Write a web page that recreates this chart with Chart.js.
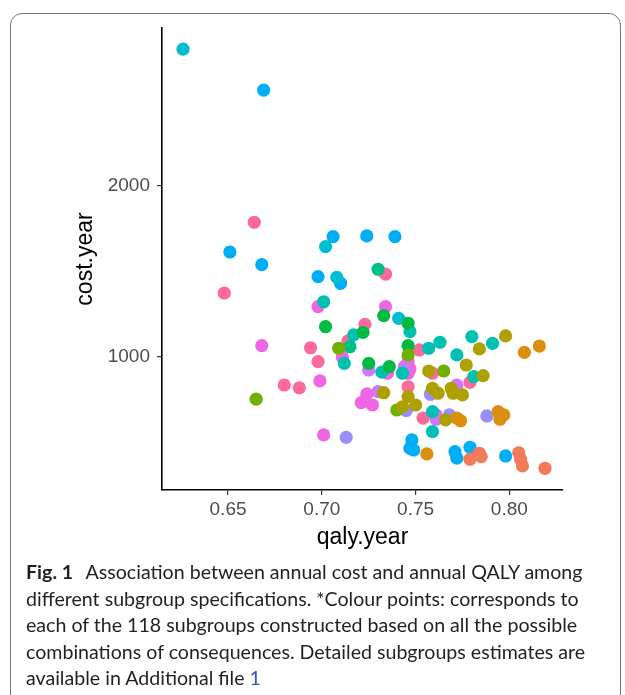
<!DOCTYPE html>
<html>
<head>
<meta charset="utf-8">
<script src="https://cdn.jsdelivr.net/npm/chart.js@4/dist/chart.umd.min.js"></script>
<style>
  html, body { margin: 0; padding: 0; background: #fff; overflow: hidden; }
  body { width: 625px; height: 695px; position: relative; }
  #frame {
    position: absolute; left: 10px; top: 13px; width: 611px; height: 720px;
    border: 1px solid #777; border-radius: 12px; box-sizing: border-box;
  }
  #plot { position: absolute; left: 0; top: 0; width: 625px; height: 560px; }
  #caption {
    position: absolute; left: 26px; top: 559px; width: 595px;
    font-family: Lato, "Open Sans", sans-serif; font-size: 19.6px; line-height: 26.5px;
    color: #231f20; white-space: nowrap;
  }
  #caption b { font-weight: 700; margin-right: 8px; }
  #caption .ref { color: #3b50d6; }
</style>
</head>
<body>
<div id="frame"></div>
<div id="plot"><canvas id="chart" width="625" height="560"></canvas></div>
<div id="caption">
<b>Fig. 1</b> Association between annual cost and annual QALY among<br>
different subgroup specifications. *Colour points: corresponds to<br>
each of the 118 subgroups constructed based on all the possible<br>
combinations of consequences. Detailed subgroups estimates are<br>
available in Additional file <span class="ref">1</span>
</div>
<script>
// axis ticks
const xTicks = [0.65, 0.70, 0.75, 0.80];
const xTickLabels = ["0.65", "0.70", "0.75", "0.80"];
const yTicks = [1000, 2000];

// subgroup estimates, grouped by point colour
const groupNames = ["salmon", "orange", "olive", "yellowgreen", "green", "greenteal", "teal", "cyan", "blue", "violet", "purple", "magenta", "pink"];

const salmonQaly = [0.779, 0.784, 0.785, 0.805, 0.806, 0.807, 0.819];
const salmonCost = [402, 437, 417, 440, 402, 363, 349];

const orangeQaly = [0.816, 0.808, 0.794, 0.797, 0.795, 0.772, 0.774, 0.756];
const orangeCost = [1064, 1027, 680, 661, 636, 642, 627, 433];

const oliveQaly = [0.798, 0.784, 0.777, 0.786, 0.757, 0.759, 0.762, 0.769, 0.770, 0.775, 0.733, 0.746, 0.743, 0.750, 0.766];
const oliveCost = [1123, 1047, 953, 891, 918, 817, 788, 817, 788, 778, 791, 768, 709, 719, 632];

const yellowgreenQaly = [0.740, 0.765, 0.746, 0.665, 0.709];
const yellowgreenCost = [690, 918, 1012, 753, 1051];

const greenQaly = [0.733, 0.746, 0.702, 0.722, 0.746, 0.725, 0.736];
const greenCost = [1242, 1197, 1177, 1144, 1066, 963, 943];

const greentealQaly = [0.730, 0.715];
const greentealCost = [1513, 1060];

const tealQaly = [0.701, 0.747, 0.717, 0.712, 0.732, 0.743, 0.757, 0.763, 0.780, 0.791, 0.772, 0.781, 0.759, 0.759];
const tealCost = [1323, 1148, 1129, 963, 911, 905, 1051, 1086, 1119, 1080, 1012, 885, 680, 563];

const cyanQaly = [0.626, 0.702, 0.708, 0.741];
const cyanCost = [2800, 1645, 1466, 1226];

const blueQaly = [0.669, 0.651, 0.668, 0.706, 0.724, 0.739, 0.698, 0.710, 0.748, 0.747, 0.749, 0.771, 0.772, 0.779, 0.798];
const blueCost = [2561, 1614, 1540, 1704, 1708, 1704, 1470, 1431, 515, 466, 456, 446, 408, 472, 421];

const violetQaly = [0.745, 0.713, 0.768, 0.788, 0.758];
const violetCost = [686, 530, 661, 655, 784];

const purpleQaly = [0.725, 0.730, 0.772, 0.761, 0.761, 0.744];
const purpleCost = [924, 797, 836, 661, 636, 943];

const magentaQaly = [0.698, 0.734, 0.668, 0.711, 0.699, 0.701, 0.735, 0.746, 0.747, 0.746, 0.724, 0.721, 0.727, 0.758];
const magentaCost = [1294, 1294, 1066, 998, 860, 544, 905, 973, 930, 905, 784, 733, 719, 782];

const pinkQaly = [0.664, 0.648, 0.734, 0.723, 0.714, 0.694, 0.698, 0.680, 0.688, 0.752, 0.759, 0.779, 0.746, 0.754];
const pinkCost = [1788, 1373, 1485, 1191, 1094, 1054, 973, 836, 820, 1041, 905, 852, 826, 642];

const seriesQaly = [salmonQaly, orangeQaly, oliveQaly, yellowgreenQaly, greenQaly, greentealQaly, tealQaly, cyanQaly, blueQaly, violetQaly, purpleQaly, magentaQaly, pinkQaly];
const seriesCost = [salmonCost, orangeCost, oliveCost, yellowgreenCost, greenCost, greentealCost, tealCost, cyanCost, blueCost, violetCost, purpleCost, magentaCost, pinkCost];
const colours = ["#F27A5A", "#DC8E0E", "#ADA100", "#6FB000", "#00BA42", "#00C08A", "#00C0B2", "#00BDD2", "#00AEF5", "#9A8EFB", "#D277F9", "#EE66E4", "#FB6A98"];

const datasets = groupNames.map((name, i) => ({
  label: name,
  data: seriesQaly[i].map((q, j) => ({ x: q, y: seriesCost[i][j] })),
  backgroundColor: colours[i],
  pointRadius: 6.6,
  pointBorderWidth: 0,
  pointHoverRadius: 6.6
}));

const tickFont = { family: "'Liberation Sans', Arial, sans-serif", size: 19 };
const titleFont = { family: "'Liberation Sans', Arial, sans-serif", size: 23 };

new Chart(document.getElementById("chart").getContext("2d"), {
  type: "scatter",
  data: { datasets: datasets },
  options: {
    responsive: false,
    animation: false,
    events: [],
    layout: { padding: { top: 28, right: 62, left: 0, bottom: 0 } },
    plugins: { legend: { display: false }, tooltip: { enabled: false } },
    scales: {
      x: {
        type: "linear",
        min: 0.6148,
        max: 0.8286,
        afterBuildTicks: axis => { axis.ticks = xTicks.map(v => ({ value: v })); },
        afterFit: axis => { axis.height = 70; },
        ticks: {
          color: "#4d4d4d", font: tickFont, padding: 3, maxRotation: 0,
          callback: (v, i) => xTickLabels[i]
        },
        grid: { drawOnChartArea: false, drawTicks: true, tickLength: 5, color: "#333", lineWidth: 1.2 },
        border: { color: "#000", width: 1.6 },
        title: { display: true, text: "qaly.year", color: "#000", font: titleFont, padding: { top: 0, bottom: 9 } }
      },
      y: {
        type: "linear",
        min: 222,
        max: 2924,
        afterBuildTicks: axis => { axis.ticks = yTicks.map(v => ({ value: v })); },
        afterFit: axis => { axis.width = 162; },
        ticks: { color: "#4d4d4d", font: tickFont, padding: 7, callback: v => String(v) },
        grid: { drawOnChartArea: false, drawTicks: true, tickLength: 5, color: "#333", lineWidth: 1.2 },
        border: { color: "#000", width: 1.6 },
        title: { display: true, text: "cost.year", color: "#000", font: titleFont, padding: { top: 72, bottom: 0 } }
      }
    }
  }
});
</script>
</body>
</html>
